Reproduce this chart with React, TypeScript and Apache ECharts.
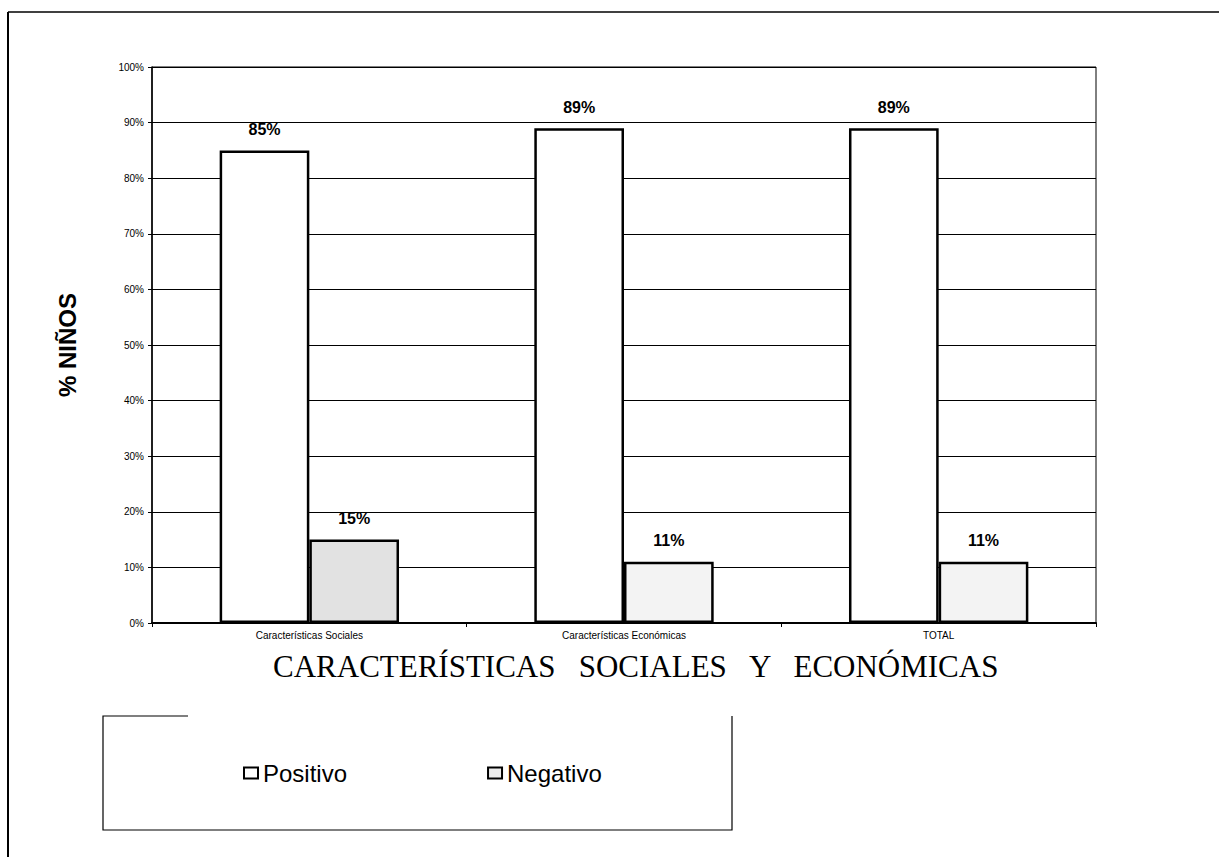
import React, { useEffect, useRef } from "react";
import * as echarts from "echarts";

const categories = ["Características Sociales", "Características Económicas", "TOTAL"];
const positivo = [85, 89, 89];
const negativo = [15, 11, 11];
const negativoShade = ["#e2e2e2", "#f3f3f3", "#f3f3f3"];
const seriesNames = ["Positivo", "Negativo"];
const yTitle = "% NIÑOS";
const xTitle = "CARACTERÍSTICAS   SOCIALES   Y   ECONÓMICAS";

export default function App() {
  const ref = useRef<HTMLDivElement>(null);
  useEffect(() => {
    document.body.style.margin = "0";
    const chart = echarts.init(ref.current!, null, { renderer: "svg" });
    const labelStyle = {
      show: true,
      position: "top",
      distance: 13,
      formatter: "{c}%",
      fontFamily: "Arial, 'Liberation Sans', sans-serif",
      fontWeight: "bold",
      fontSize: 16,
      color: "#000",
    };
    chart.setOption({
      animation: false,
      backgroundColor: "#fff",
      grid: {
        left: 152,
        top: 67,
        right: 123,
        bottom: 234,
        show: true,
        borderColor: "#000",
        borderWidth: 1,
      },
      legend: {
        left: 238,
        top: 756,
        itemWidth: 14,
        itemHeight: 11,
        itemGap: 140,
        icon: "rect",
        textStyle: {
          fontFamily: "Arial, 'Liberation Sans', sans-serif",
          fontSize: 24,
          color: "#000",
        },
        data: seriesNames,
      },
      xAxis: {
        type: "category",
        data: categories,
        axisLine: { lineStyle: { color: "#000", width: 2 } },
        axisTick: { show: true, length: 4, lineStyle: { color: "#000" } },
        axisLabel: {
          fontFamily: "Arial, 'Liberation Sans', sans-serif",
          fontSize: 10,
          color: "#000",
          margin: 7,
        },
      },
      yAxis: {
        type: "value",
        min: 0,
        max: 100,
        interval: 10,
        axisLine: { show: true, lineStyle: { color: "#000", width: 1.5 } },
        axisTick: { show: true, length: 4, lineStyle: { color: "#000" } },
        axisLabel: {
          formatter: "{value}%",
          fontFamily: "Arial, 'Liberation Sans', sans-serif",
          fontSize: 10,
          color: "#000",
          margin: 8,
        },
        splitLine: { show: true, lineStyle: { color: "#000", width: 1 } },
      },
      series: [
        {
          name: seriesNames[0],
          type: "bar",
          data: positivo,
          barGap: "0%",
          barCategoryGap: "43%",
          itemStyle: { color: "#fff", borderColor: "#000", borderWidth: 2.5 },
          label: labelStyle,
        },
        {
          name: seriesNames[1],
          type: "bar",
          data: negativo.map((v, i) => ({
            value: v,
            itemStyle: { color: negativoShade[i] },
          })),
          itemStyle: { color: "#ececec", borderColor: "#000", borderWidth: 2.5 },
          label: labelStyle,
        },
      ],
      graphic: [
        {
          type: "line",
          shape: { x1: 8, y1: 12, x2: 1219, y2: 12 },
          style: { stroke: "#000", lineWidth: 1.5 },
        },
        {
          type: "line",
          shape: { x1: 8, y1: 12, x2: 8, y2: 857 },
          style: { stroke: "#000", lineWidth: 2 },
        },
        {
          type: "polyline",
          shape: {
            points: [
              [188, 716],
              [103, 716],
              [103, 830],
              [732, 830],
              [732, 716],
            ],
          },
          style: { stroke: "#000", lineWidth: 1.2, fill: "none" },
        },
        {
          type: "text",
          x: 67,
          y: 345,
          rotation: Math.PI / 2,
          style: {
            text: yTitle,
            fontFamily: "Arial, 'Liberation Sans', sans-serif",
            fontWeight: "bold",
            fontSize: 24,
            fill: "#000",
            align: "center",
            verticalAlign: "middle",
          },
        },
        {
          type: "text",
          x: 273,
          y: 666,
          style: {
            text: xTitle,
            fontFamily: "'Liberation Serif', 'Times New Roman', serif",
            fontSize: 31,
            fill: "#000",
            align: "left",
            verticalAlign: "middle",
          },
        },
      ],
    });
    return () => chart.dispose();
  }, []);
  return (
    <div
      ref={ref}
      style={{ position: "absolute", left: 0, top: 0, width: 1219, height: 857 }}
    />
  );
}
